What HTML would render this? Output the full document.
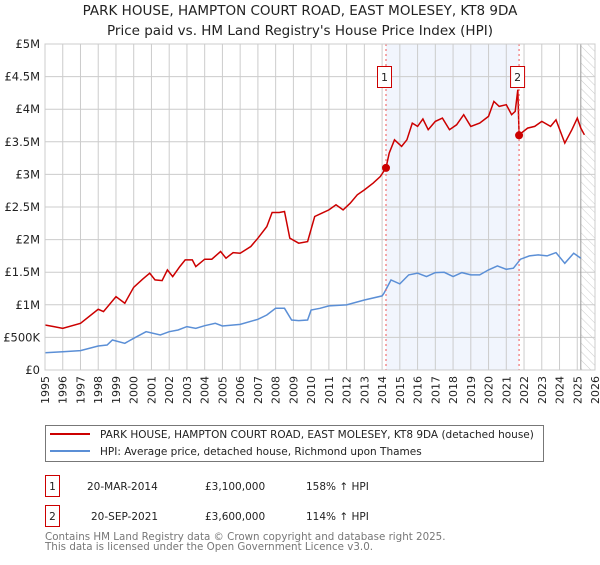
<!DOCTYPE html>
<html><head><meta charset="utf-8"><style>
body{margin:0;background:#fff;font-family:"Liberation Sans","DejaVu Sans",sans-serif;}
svg text{font-family:"DejaVu Sans","Liberation Sans",sans-serif;}
</style></head><body>
<svg id="chart" width="600" height="560" viewBox="0 0 600 560" xmlns="http://www.w3.org/2000/svg">
<defs><pattern id="hatch" width="6" height="6" patternUnits="userSpaceOnUse" patternTransform="rotate(-45)"><line x1="0" y1="0" x2="0" y2="6" stroke="#ccc" stroke-width="1"/></pattern></defs>
<text x="300" y="15" text-anchor="middle" font-size="13.5" fill="#222">PARK HOUSE, HAMPTON COURT ROAD, EAST MOLESEY, KT8 9DA</text>
<text x="300" y="35" text-anchor="middle" font-size="13.5" fill="#222">Price paid vs. HM Land Registry's House Price Index (HPI)</text>
<g id="plot"></g>
<g>
<rect x="45.5" y="425.5" width="498" height="36" fill="#fff" stroke="#777"/>
<line x1="50" y1="434" x2="90" y2="434" stroke="#cc0000" stroke-width="2"/>
<text x="100" y="438" font-size="10.5" fill="#222">PARK HOUSE, HAMPTON COURT ROAD, EAST MOLESEY, KT8 9DA (detached house)</text>
<line x1="50" y1="451" x2="90" y2="451" stroke="#5b8fd6" stroke-width="2"/>
<text x="100" y="455" font-size="10.5" fill="#222">HPI: Average price, detached house, Richmond upon Thames</text>
</g>
<g font-size="10.5" fill="#222">
<rect x="45.5" y="475.5" width="14" height="21" fill="#fff" stroke="#cc0000"/><text x="52.5" y="490" text-anchor="middle">1</text>
<text x="87" y="490">20-MAR-2014</text><text x="205" y="490">£3,100,000</text><text x="306" y="490">158% ↑ HPI</text>
<rect x="45.5" y="505.5" width="14" height="21" fill="#fff" stroke="#cc0000"/><text x="52.5" y="520" text-anchor="middle">2</text>
<text x="91" y="520">20-SEP-2021</text><text x="205" y="520">£3,600,000</text><text x="306" y="520">114% ↑ HPI</text>
</g>
<text x="45" y="540" font-size="10.3" fill="#777">Contains HM Land Registry data © Crown copyright and database right 2025.</text>
<text x="45" y="550" font-size="10.3" fill="#777">This data is licensed under the Open Government Licence v3.0.</text>
</svg>
<script>
const hpiYears=[1995,1996,1997,1998,1998.5,1998.8,1999.5,2000,2000.7,2001.5,2002,2002.5,2003,2003.5,2004,2004.6,2005,2006,2007,2007.5,2008,2008.5,2008.9,2009.3,2009.8,2010,2010.5,2011,2012,2013,2014,2014.1,2014.5,2015,2015.5,2016,2016.5,2017,2017.5,2018,2018.5,2019,2019.5,2020,2020.5,2021,2021.4,2021.8,2022.3,2022.8,2023.3,2023.8,2024.3,2024.8,2025.2];
const hpiValues=[266,281,297,368,384,460,409,486,588,537,588,614,665,640,680,716,675,700,778,844,946,946,767,757,767,921,946,983,998,1074,1136,1177,1381,1320,1458,1484,1433,1494,1499,1433,1494,1458,1458,1535,1597,1545,1561,1699,1750,1766,1750,1801,1637,1791,1714];
const propYears=[1995,1995.5,1996,1997,1998,1998.3,1999,1999.5,2000,2000.5,2000.9,2001.2,2001.6,2001.9,2002.2,2002.6,2002.9,2003.3,2003.5,2004,2004.4,2004.9,2005.2,2005.6,2006,2006.6,2007,2007.5,2007.8,2008.2,2008.5,2008.8,2009.3,2009.8,2010.2,2010.6,2011,2011.4,2011.8,2012.2,2012.6,2013,2013.5,2013.9,2014.22,2014.4,2014.7,2015.1,2015.4,2015.7,2016,2016.3,2016.6,2017,2017.4,2017.8,2018.2,2018.6,2019,2019.5,2020,2020.3,2020.6,2021,2021.3,2021.5,2021.65,2021.72,2022.2,2022.6,2023,2023.5,2023.8,2024.3,2024.7,2025,2025.2,2025.4];
const propValues=[690,665,640,716,931,895,1126,1024,1269,1392,1484,1382,1371,1535,1433,1586,1689,1689,1586,1699,1699,1817,1714,1801,1791,1894,2021,2200,2416,2416,2431,2021,1945,1970,2354,2405,2456,2533,2456,2559,2687,2763,2866,2968,3100,3326,3531,3429,3531,3787,3736,3849,3685,3813,3864,3685,3761,3915,3736,3787,3890,4120,4043,4069,3915,3967,4299,3608,3710,3736,3813,3736,3838,3480,3685,3864,3710,3608];
const saleYears=[2014.22,2021.72];
const saleValues=[3100,3600];
const saleLabels=["1","2"];
const yTicks=[0,500,1000,1500,2000,2500,3000,3500,4000,4500,5000];
const yTickLabels=["£0","£500K","£1M","£1.5M","£2M","£2.5M","£3M","£3.5M","£4M","£4.5M","£5M"];
const xTicks=[1995,1996,1997,1998,1999,2000,2001,2002,2003,2004,2005,2006,2007,2008,2009,2010,2011,2012,2013,2014,2015,2016,2017,2018,2019,2020,2021,2022,2023,2024,2025,2026];
const dataEnd=2025.2;

const X0=45,X1=595,Y0=370,Y1=44;
const xs=y=>X0+(y-1995)/(2026-1995)*(X1-X0);
const ys=v=>Y0-v/5000*(Y0-Y1);
const NS="http://www.w3.org/2000/svg";
const g=document.getElementById('plot');
function mk(t,a,p){const e=document.createElementNS(NS,t);for(const k in a)e.setAttribute(k,a[k]);(p||g).appendChild(e);return e;}

let bg=mk('rect',{x:X0,y:Y1,width:X1-X0,height:Y0-Y1,fill:'#fff'});


let band=mk('rect',{x:xs(saleYears[0]),y:Y1,width:xs(saleYears[1])-xs(saleYears[0]),height:Y0-Y1,fill:'#eef3fd',opacity:0.8});


let hatch=mk('rect',{x:xs(dataEnd),y:Y1,width:X1-xs(dataEnd),height:Y0-Y1,fill:'url(#hatch)'});


xTicks.forEach(t=>{
  let l=mk('line',{x1:xs(t),x2:xs(t),y1:Y1,y2:Y0,stroke:'#ccc','stroke-width':1});
  
  
  let tx=mk('text',{x:0,y:0,'font-size':11,fill:'#222','text-anchor':'end',transform:`translate(${xs(t)+4},376) rotate(-90)`});
  tx.textContent=t;
  
  
});
yTicks.forEach((t,i)=>{
  let l=mk('line',{x1:X0,x2:X1,y1:ys(t),y2:ys(t),stroke:'#ccc','stroke-width':1});
  
  
  let tx=mk('text',{x:40,y:ys(t)+4,'font-size':11.5,fill:'#222','text-anchor':'end'});
  tx.textContent=yTickLabels[i];
  
  
});
let el=mk('line',{x1:xs(dataEnd),x2:xs(dataEnd),y1:Y1,y2:Y0,stroke:'#999','stroke-width':1});


function path(xa,va){return xa.map((y,i)=>(i?'L':'M')+xs(y).toFixed(1)+','+ys(va[i]).toFixed(1)).join('');}
let hp=mk('path',{d:path(hpiYears,hpiValues),fill:'none',stroke:'#5b8fd6','stroke-width':1.5});


let pp=mk('path',{d:path(propYears,propValues),fill:'none',stroke:'#cc0000','stroke-width':1.5});


saleYears.forEach((s,i)=>{
  let l=mk('line',{x1:xs(s),x2:xs(s),y1:Y1,y2:Y0,stroke:'#e55','stroke-width':1,'stroke-dasharray':'2,3'});
  
  
  let c=mk('circle',{cx:xs(s),cy:ys(saleValues[i]),r:4,fill:'#cc0000'});
  
  
  let b=mk('rect',{x:xs(s)-8.5,y:66.5,width:14,height:21,fill:'#fff',stroke:'#cc0000'});
  
  
  let t=mk('text',{x:xs(s)-1.5,y:81,'font-size':11,fill:'#222','text-anchor':'middle'});
  t.textContent=saleLabels[i];
  
  
});
let fr=mk('rect',{x:X0,y:Y1,width:X1-X0,height:Y0-Y1,fill:'none',stroke:'#ccc'});


</script>
</body></html>
